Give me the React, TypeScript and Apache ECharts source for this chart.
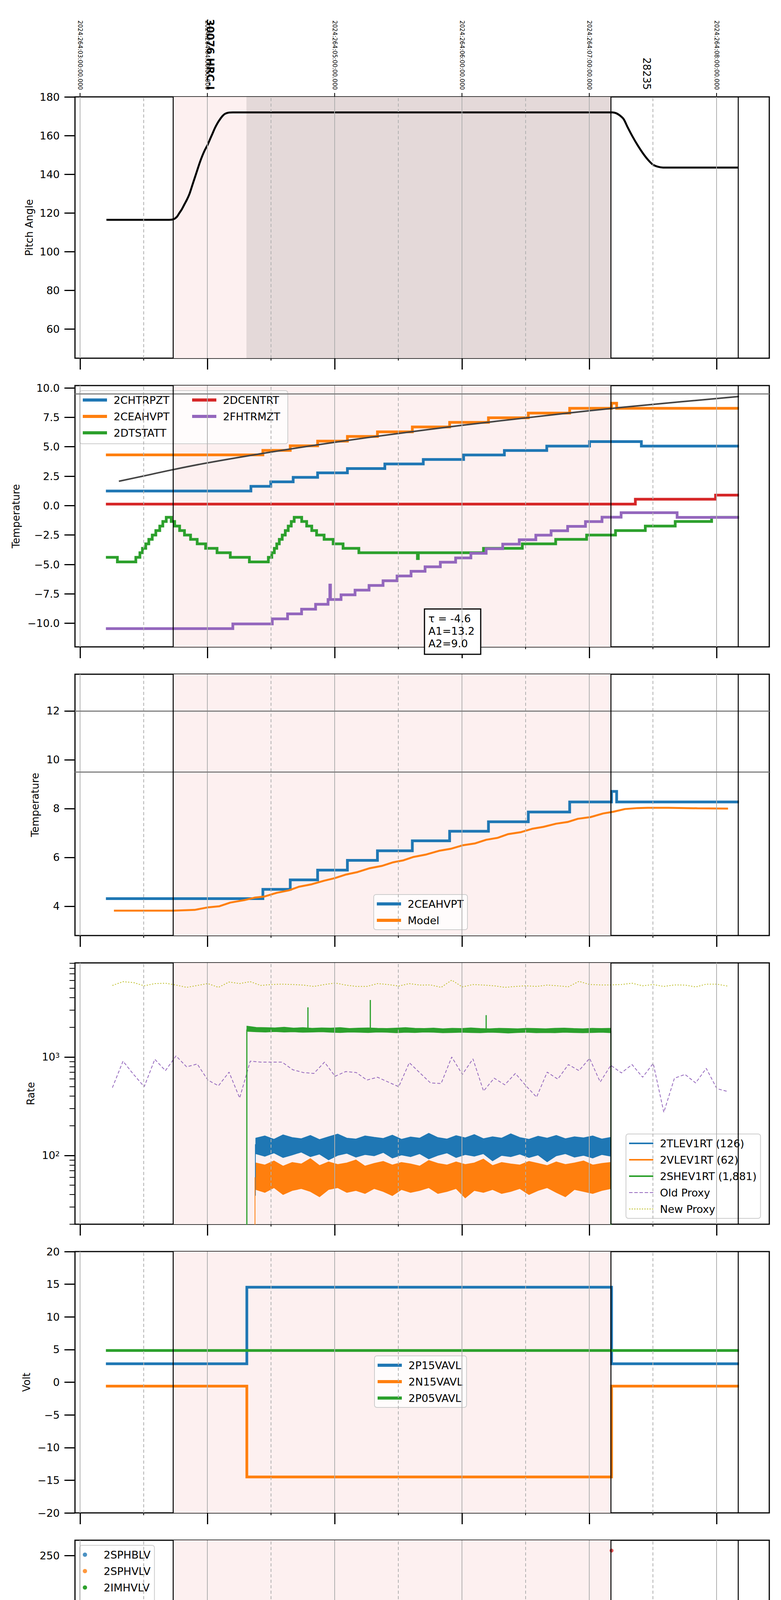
import React, { useEffect, useRef } from "react";
import * as echarts from "echarts";

const FONT = "DejaVu Sans";
const C_BLUE = "#1f77b4";
const C_ORANGE = "#ff7f0e";
const C_GREEN = "#2ca02c";
const C_RED = "#d62728";
const C_PURPLE = "#9467bd";
const C_OLIVE = "#bcbd22";
const C_MODEL = "#444444";
const PINK = "#fdf0f0";
const DARK = "#e4d9d9";

// ---------- x axis (hours after 2024-09-19 23:00 local) ----------
const X_MIN = -0.04;
const X_MAX = 5.414;
const HOUR_TICKS = [0, 1, 2, 3, 4, 5];
const HALF_TICKS = [0.5, 1.5, 2.5, 3.5, 4.5];
const ALL_LABEL_TICKS = [0, 0.5, 1, 1.5, 2, 2.5, 3, 3.5, 4, 4.5, 5];
const HOUR_LABELS = ["23h", "00h", "01h", "02h", "03h", "04h"];
const HALF_LABEL = "30";
const X_TITLE = "2024-09-20 (264)";
const UTC_LABELS = [
  "2024:264:03:00:00.000",
  "2024:264:04:00:00.000",
  "2024:264:05:00:00.000",
  "2024:264:06:00:00.000",
  "2024:264:07:00:00.000",
  "2024:264:08:00:00.000",
];
const OBSID_BOLD_TIME = [1.02];
const OBSID_BOLD_LABEL = "30076 HRC-I";
const OBSID_TIME = [4.45];
const OBSID_LABEL = "28235";
const SHADE_SPAN = [0.733, 4.17];
const DARK_SPAN = [1.307, 4.17];
const EVENT_LINES = [0.733, 4.17, 5.166];

// ---------- y ticks ----------
const Y_TICKS_PITCH = [60, 80, 100, 120, 140, 160, 180];
const Y_TICKS_TEMP = [-10, -7.5, -5, -2.5, 0, 2.5, 5, 7.5, 10];
const Y_TICKS_CEA = [4, 6, 8, 10, 12];
const Y_TICKS_RATE = [100, 1000];
const Y_MINOR_RATE = [20, 30, 40, 50, 60, 70, 80, 90, 200, 300, 400, 500, 600, 700, 800, 900, 2000, 3000, 4000, 5000, 6000, 7000, 8000, 9000];
const Y_TICKS_VOLT = [-20, -15, -10, -5, 0, 5, 10, 15, 20];
const Y_TICKS_HV = [0, 50, 100, 150, 200, 250];
const Y_TICKS_DET = [0, 2.5, 5, 7.5, 10, 12.5, 15, 17.5];
const Y_TICKS_FEA = [-10, -8, -6, -4, -2, 0];
const H_LINES_TEMP = [9.5];
const H_LINES_CEA = [12, 9.5];

// ---------- panel 1: pitch ----------
const PITCH = [
  [0.207, 116.5], [0.7, 116.5], [0.735, 116.8], [0.76, 118], [0.78, 120], [0.8, 122], [0.82, 124.5],
  [0.84, 127], [0.86, 130], [0.88, 134], [0.9, 138], [0.92, 142], [0.94, 146], [0.96, 149.5],
  [0.98, 152.5], [1.0, 155], [1.02, 158], [1.04, 161], [1.06, 164], [1.08, 166.5], [1.1, 168.5],
  [1.12, 170.2], [1.14, 171.3], [1.17, 171.9], [1.2, 172], [4.18, 172], [4.21, 171.6], [4.24, 170.4],
  [4.27, 168.5], [4.3, 164.5], [4.34, 159.5], [4.38, 155], [4.42, 151], [4.46, 147.6], [4.5, 145],
  [4.54, 143.9], [4.58, 143.5], [5.17, 143.5],
];

// ---------- panel 2 / 3: temperatures ----------
const CHTRPZT = [
  [0.203, 1.24], [1.342, 1.64], [1.498, 2.02], [1.674, 2.4], [1.866, 2.78], [2.1, 3.15], [2.394, 3.54],
  [2.696, 3.92], [3.013, 4.3], [3.333, 4.68], [3.666, 5.06], [4.002, 5.44], [4.409, 5.06], [5.176, 5.06],
];
const CEAHVPT = [
  [0.203, 4.31], [1.436, 4.69], [1.651, 5.08], [1.866, 5.48], [2.1, 5.88], [2.336, 6.27], [2.61, 6.68],
  [2.903, 7.07], [3.208, 7.46], [3.521, 7.86], [3.846, 8.27], [4.175, 8.7], [4.215, 8.27], [5.176, 8.27],
];
const DTSTATT = [
  [0.203, -4.39], [0.293, -4.78], [0.438, -4.39], [0.47, -4.0], [0.49, -3.63], [0.516, -3.25], [0.54, -2.87],
  [0.567, -2.5], [0.595, -2.12], [0.626, -1.74], [0.65, -1.35], [0.677, -0.99], [0.716, -1.35], [0.743, -1.74],
  [0.782, -2.12], [0.82, -2.5], [0.868, -2.87], [0.92, -3.25], [0.986, -3.63], [1.076, -4.0], [1.18, -4.39],
  [1.33, -4.78], [1.479, -4.39], [1.506, -4.0], [1.526, -3.63], [1.545, -3.25], [1.565, -2.87], [1.588, -2.5],
  [1.612, -2.12], [1.635, -1.74], [1.659, -1.35], [1.682, -0.99], [1.741, -1.35], [1.78, -1.74], [1.82, -2.12],
  [1.858, -2.5], [1.917, -2.87], [1.988, -3.25], [2.066, -3.63], [2.19, -4.0], [2.65, -4.5], [2.657, -4.0],
  [3.169, -3.63], [3.474, -3.25], [3.736, -2.87], [3.979, -2.5], [4.206, -2.12], [4.44, -1.74], [4.675, -1.35],
  [4.961, -0.99], [5.176, -0.99],
];
const DCENTRT = [[0.203, 0.13], [4.362, 0.54], [4.992, 0.89], [5.176, 0.89]];
const FHTRMZT = [
  [0.203, -10.45], [1.2, -10.05], [1.51, -9.62], [1.63, -9.2], [1.74, -8.8], [1.85, -8.38], [1.948, -7.98],
  [1.962, -6.75], [1.967, -7.98], [2.05, -7.58], [2.16, -7.18], [2.27, -6.78], [2.38, -6.38], [2.49, -5.98],
  [2.6, -5.58], [2.71, -5.2], [2.83, -4.81], [2.95, -4.44], [3.07, -4.05], [3.19, -3.66], [3.32, -3.27],
  [3.45, -2.9], [3.58, -2.51], [3.7, -2.14], [3.83, -1.76], [3.97, -1.36], [4.1, -0.98], [4.25, -0.6],
  [4.69, -1.0], [5.176, -1.0],
];
const MODEL_FIT = [
  [0.305, 2.07], [0.5, 2.52], [0.736, 3.07], [1.0, 3.63], [1.5, 4.55], [2.0, 5.38], [2.5, 6.13],
  [3.0, 6.82], [3.5, 7.45], [4.0, 8.06], [4.5, 8.6], [5.176, 9.27],
];
const FIT_TEXT = "τ = -4.6\nA1=13.2\nA2=9.0";
const MODEL_CEA = [
  [0.266, 3.82], [0.736, 3.82], [0.9, 3.85], [1.0, 3.95], [1.095, 4.0], [1.18, 4.15], [1.29, 4.25], [1.37, 4.35],
  [1.45, 4.4], [1.545, 4.55], [1.64, 4.65], [1.72, 4.8], [1.82, 4.9], [1.92, 5.05], [2.0, 5.15], [2.09, 5.3],
  [2.18, 5.4], [2.27, 5.55], [2.37, 5.65], [2.46, 5.8], [2.54, 5.88], [2.62, 6.02], [2.72, 6.12], [2.82, 6.27],
  [2.91, 6.35], [3.01, 6.5], [3.1, 6.57], [3.19, 6.72], [3.28, 6.8], [3.36, 6.95], [3.46, 7.03], [3.55, 7.17],
  [3.64, 7.25], [3.74, 7.38], [3.83, 7.45], [3.91, 7.58], [4.01, 7.65], [4.11, 7.8], [4.19, 7.87], [4.28, 7.98],
  [4.38, 8.02], [4.46, 8.03], [4.62, 8.03], [4.85, 8.01], [5.09, 8.0],
];

// ---------- panel 4: rates ----------
const BAND_T0 = 1.38;
const BAND_T1 = 4.17;
const SH_T0 = 1.31;
const TL_HI = [150, 158, 146, 162, 152, 148, 160, 145, 155, 165, 150, 147, 158, 153, 149, 161, 146, 154, 150, 168, 152, 147, 159, 151, 163, 148, 155, 150, 166, 152, 146, 157, 150, 160, 148, 155, 151, 158, 147, 153];
const TL_LO = [104, 98, 106, 95, 101, 108, 97, 103, 90, 100, 105, 96, 102, 99, 107, 94, 101, 97, 104, 92, 100, 106, 95, 102, 98, 104, 88, 100, 97, 103, 95, 101, 86, 99, 104, 96, 100, 94, 102, 98];
const VL_HI = [84, 80, 88, 78, 85, 82, 93, 79, 86, 81, 84, 90, 78, 83, 87, 80, 85, 82, 78, 89, 83, 80, 86, 81, 84, 92, 79, 85, 82, 80, 87, 83, 79, 86, 81, 84, 88, 80, 83, 85];
const VL_LO = [45, 42, 47, 40, 44, 46, 43, 38, 45, 47, 42, 44, 41, 46, 43, 39, 45, 42, 44, 47, 41, 43, 46, 37, 44, 42, 45, 41, 43, 46, 40, 44, 47, 42, 38, 45, 43, 41, 44, 46];
const SH_HI = [2060, 2000, 1990, 1980, 2010, 1970, 1990, 1960, 1980, 1970, 1990, 1950, 1970, 1980, 1960, 1950, 1970, 1990, 1960, 1950, 1970, 1940, 1960, 1950, 1980, 1950, 1940, 1960, 1950, 1940, 1960, 1950, 1940, 1960, 1970, 1950, 1940, 1960, 1950, 1960];
const SH_LO = [1820, 1800, 1790, 1810, 1790, 1800, 1780, 1790, 1800, 1780, 1770, 1790, 1780, 1770, 1790, 1780, 1760, 1780, 1770, 1790, 1780, 1760, 1770, 1780, 1770, 1760, 1780, 1770, 1750, 1770, 1780, 1760, 1770, 1760, 1780, 1770, 1760, 1770, 1780, 1760];
const SH_SPIKES: any[] = [
  [1.31, 10], [1.31, 1900], [1.311, "-"], [1.79, 1900], [1.79, 3200], [1.791, "-"],
  [2.28, 1900], [2.28, 3790], [2.281, "-"], [3.19, 1880], [3.19, 2660], [3.191, "-"],
  [4.17, 1850], [4.17, 10],
];
const TL_EDGE: any[] = [[1.377, 39], [1.377, 130], [1.378, "-"], [4.168, 120], [4.168, 60]];
const VL_EDGE: any[] = [[1.374, 10], [1.374, 60]];
const PROXY_T0 = 0.254;
const PROXY_DT = 0.0833;
const OLD_PROXY = [488, 907, 665, 499, 948, 727, 1027, 794, 849, 583, 510, 702, 383, 907, 887, 887, 887, 743, 695, 681, 887, 637, 711, 695, 583, 623, 557, 499, 876, 689, 545, 538, 1000, 665, 957, 451, 609, 522, 681, 510, 391, 702, 596, 838, 727, 969, 557, 823, 689, 838, 623, 861, 274, 609, 665, 545, 767, 477, 447];
const NEW_PROXY = [5333, 5826, 5700, 5290, 5570, 5620, 5380, 5100, 5333, 5570, 5100, 5780, 5570, 5826, 5333, 5450, 5500, 5450, 5380, 5210, 5450, 5650, 5380, 5210, 5210, 5570, 5450, 5260, 5570, 5380, 5400, 5100, 6040, 5150, 5450, 5380, 5290, 5100, 5210, 5290, 5210, 5380, 5290, 5170, 5870, 5450, 5400, 5400, 5450, 5620, 5290, 5450, 5210, 5400, 5380, 5150, 5500, 5500, 5260];

// ---------- panel 5: volts ----------
const P15VAVL = [[0.203, 2.83], [1.31, 14.55], [4.175, 2.83], [5.176, 2.83]];
const N15VAVL = [[0.203, -0.6], [1.31, -14.5], [4.175, -0.6], [5.176, -0.6]];
const P05VAVL = [[0.203, 4.86], [5.176, 4.86]];

// ---------- panel 6: HV monitor ----------
const IMHBLV_PTS = [
  [1.33, 127], [1.331, 125.5], [1.332, 124], [1.334, 119], [1.337, 106], [1.34, 104], [1.345, 101], [1.352, 97],
  [1.358, 94], [1.365, 91], [1.37, 88.5], [3.365, 79], [3.4, 79], [3.44, 79], [3.46, 79], [4.03, 79], [4.07, 79], [4.175, 255],
];
const IMHBLV_LEVEL = [[1.375, 85.8], [4.175, 85.8]];
const IMHVLV_PTS = [
  [1.33, 100], [1.336, 96], [1.343, 91], [1.35, 87], [1.357, 84], [1.365, 81],
  [3.365, 127], [3.4, 127], [3.44, 127], [3.46, 127], [4.03, 127], [4.07, 127],
];
const IMHVLV_LEVEL = [[1.37, 79.3], [4.175, 79.3]];

// ---------- panel 7: detector temps ----------
const TOGGLE_W = 0.008;
const SPINATM = [
  [1.322, 1.74], [1.471, 2.2], [1.487, 2.67], [1.506, 3.14], [1.522, 3.65], [1.538, 4.15], [1.557, 4.65],
  [1.577, 5.16], [1.596, 5.66], [1.624, 6.17], [1.651, 6.67], [1.678, 7.18], [1.714, 6.67], [1.737, 6.17],
  [1.768, 5.66], [1.808, 5.16], [1.847, 4.65], [1.898, 4.15], [1.964, 3.65], [2.05, 3.14], [2.16, 2.67],
  [2.355, 2.2], [4.155, 2.2],
];
const SPINATM_TOG = [[3.314, -5], [3.365, -5], [3.404, -5], [3.443, -5], [3.462, -5], [3.49, -5], [3.513, -5], [3.541, -5], [3.568, -5], [3.932, -5], [3.983, -5], [4.03, -5], [4.069, -5]];
const SPHVATM = [
  [1.322, 12.65], [1.964, 13.01], [2.25, 13.37], [2.496, 13.69], [2.758, 14.02], [3.013, 14.34], [3.286, 14.68],
  [3.607, 15.03], [3.815, 15.36], [4.088, 15.7], [4.155, 15.7],
];
const SPHVATM_TOG = [[3.314, 9.0], [3.365, 9.0], [3.404, 9.0], [3.443, 9.0], [3.462, 9.0], [3.49, 9.0], [3.513, 9.0], [3.541, 9.0], [3.568, 9.0], [3.932, 9.6], [3.983, 9.6], [4.03, 9.6], [4.069, 9.6]];
const SPHVATM_DROP = [[3.6, 15.03], [3.6, -5]];
const IMINATM = [[1.322, -0.97], [1.721, -0.53], [2.868, -0.1], [3.854, 0.36], [4.155, 0.36]];
const IMINATM_TOG = [[3.314, 2.2], [3.365, 2.2], [3.404, 2.2], [3.443, 2.2], [3.462, 2.2], [3.49, 2.2], [3.513, 2.2], [3.541, 2.2], [3.568, 2.2], [3.932, 2.2], [3.983, 2.2], [4.03, 2.2], [4.069, 2.2]];
const IMHVATM = [
  [1.3, -5], [1.311, 11.97], [1.506, 12.33], [1.612, 12.65], [1.721, 13.0], [1.831, 13.34], [1.948, 13.66],
  [2.081, 13.98], [2.21, 14.31], [2.367, 14.65], [2.523, 15.0], [2.711, 15.35], [2.907, 15.68], [3.13, 16.04],
  [3.353, 16.4], [3.592, 16.73], [3.846, 17.07], [4.096, 17.33], [4.17, 25], [4.178, -5], [4.185, -5],
];
const IMHVATM_TOG = [[3.314, 14.6], [3.365, 14.6], [3.404, 9.3], [3.443, 14.6], [3.462, 14.6], [3.49, 14.6], [3.513, 9.3], [3.541, 14.6], [3.568, 9.3], [3.932, 15.3], [3.983, 15.3], [4.03, 15.3], [4.069, 15.3]];

// ---------- panel 8: FEA temps ----------
const FRADPYT = [
  [1.6, -12], [1.65, -10.49], [1.75, -10.07], [1.84, -9.64], [1.94, -9.22], [2.05, -8.8], [2.16, -8.4],
  [2.27, -7.98], [2.38, -7.57], [2.5, -7.16], [2.61, -6.77], [2.74, -6.39], [2.86, -5.99], [2.99, -5.59],
  [3.11, -5.19], [3.25, -4.81], [3.38, -4.4], [3.52, -4.03], [3.65, -3.64], [3.8, -3.27], [3.93, -2.88],
  [4.08, -2.51], [4.63, -2.9], [4.91, -3.28], [5.176, -3.28],
];
const FEPRATM = [
  [1.3, -12], [1.31, -10.25], [1.37, -9.84], [1.416, -9.41], [1.459, -8.97], [1.518, -8.56], [1.585, -8.15],
  [1.67, -7.71], [1.76, -7.28], [1.85, -6.87], [1.948, -6.46], [2.054, -6.05], [2.152, -5.62], [2.27, -5.21],
  [2.375, -4.79], [2.49, -4.36], [2.61, -3.95], [2.73, -3.54], [2.856, -3.11], [2.985, -2.7], [3.118, -2.27],
  [3.255, -1.84], [3.42, -1.4], [3.6, -0.97], [3.69, -0.53], [3.85, -0.1], [4.155, -0.1],
];
const FEPRATM_TOG = [[3.322, -6.05], [3.372, -6.05], [3.401, -6.05], [3.423, -6.05], [3.452, -6.05], [3.471, -6.05], [3.484, -6.05], [3.541, -6.05], [3.567, -6.05], [3.599, -6.05], [3.611, -6.05], [3.936, -6.05], [3.953, -6.05], [3.99, -6.05], [4.038, -6.05], [4.079, -6.05]];
const FE00ATM = [
  [1.55, -12], [1.59, -10.43], [1.67, -10.06], [1.75, -9.65], [1.83, -9.32], [1.92, -8.95], [1.98, -8.58],
  [2.06, -8.19], [2.15, -7.84], [2.23, -7.47], [2.31, -7.12], [2.41, -6.77], [2.5, -6.4], [2.6, -6.05],
  [2.688, -5.7], [2.787, -5.35], [2.879, -5.01], [2.975, -4.66], [3.076, -4.33], [3.172, -3.98], [3.28, -3.64],
  [3.35, -3.3], [3.52, -2.95], [3.624, -2.62], [3.694, -2.29], [3.796, -1.97], [3.917, -1.62], [4.045, -1.29],
  [4.134, -0.96], [4.175, 1], [4.18, -12], [4.185, -12],
];
const FE00ATM_TOG = [
  [3.229, -4.33], [3.322, 1], [3.357, 1], [3.367, 1], [3.377, 1], [3.387, 1], [3.397, 1], [3.407, 1], [3.417, 1],
  [3.427, 1], [3.437, 1], [3.447, 1], [3.457, 1], [3.467, 1], [3.477, 1], [3.487, 1], [3.497, 1], [3.51, -12],
  [3.535, 1], [3.545, 1], [3.555, 1], [3.565, 1], [3.575, 1], [3.585, 1], [3.595, 1], [3.605, -12], [3.614, 1],
  [3.873, 1], [3.943, 1], [3.955, 1], [3.987, 1], [4.005, 1], [4.025, 1], [4.045, 1], [4.07, -2.0],
];

// ---------- layout ----------
const GRID_TOPS = [248, 987, 1726, 2465, 3204, 3943, 4682, 5421];
const GRID_LEFT = 192;
const GRID_WIDTH = 1778;
const GRID_HEIGHT = 669;

const minus = (s: string) => s.replace("-", "\u2212");
const fmt0 = (v: number) => minus(String(Math.round(v)));
const fmt1 = (v: number) => minus(v.toFixed(1));

function withToggles(base: number[][], toggles: number[][], w: number): number[][] {
  const at = (t: number) => {
    let v = base[0][1];
    for (const p of base) {
      if (p[0] <= t) v = p[1];
      else break;
    }
    return v;
  };
  const pts = base.map((p) => [p[0], p[1]]);
  toggles.forEach(([t, alt]) => {
    pts.push([t, alt]);
    pts.push([t + w, at(t + w)]);
  });
  pts.sort((a, b) => a[0] - b[0]);
  return pts;
}

function stepLine(gi: number, name: string, data: any[], color: string, width = 7, extra: any = {}) {
  return {
    type: "line", name, xAxisIndex: gi, yAxisIndex: gi, data, step: "end",
    symbol: "none", showSymbol: false, z: 2, clip: true, silent: true,
    lineStyle: { color, width, join: "miter" }, itemStyle: { color },
    emphasis: { disabled: true }, ...extra,
  };
}
function plainLine(gi: number, name: string, data: any[], color: string, width: number, extra: any = {}) {
  return {
    type: "line", name, xAxisIndex: gi, yAxisIndex: gi, data,
    symbol: "none", showSymbol: false, z: 2, clip: true, silent: true,
    lineStyle: { color, width }, itemStyle: { color },
    emphasis: { disabled: true }, ...extra,
  };
}
// noisy rate channel drawn as a filled band between its low and high envelopes
function bandSeries(name: string, t: number[], hi: number[], lo: number[], color: string) {
  return {
    type: "custom", name, xAxisIndex: 3, yAxisIndex: 3, silent: true, z: 2,
    itemStyle: { color },
    data: [[t[0], lo[0]]],
    renderItem: (_params: any, api: any) => {
      const top = t.map((x, k) => api.coord([x, hi[k]]));
      const bot = t.map((x, k) => api.coord([x, lo[k]])).reverse();
      return {
        type: "polygon",
        shape: { points: top.concat(bot) },
        style: { fill: color, stroke: color, lineWidth: 1.5 },
      };
    },
  };
}

function buildOption() {
  const nG = GRID_TOPS.length;
  const grids = GRID_TOPS.map((top) => ({
    left: GRID_LEFT, top, width: GRID_WIDTH, height: GRID_HEIGHT,
    show: true, borderColor: "#000", borderWidth: 3, backgroundColor: "transparent",
  }));

  const noLine = { show: false, onZero: false };
  const xAxes: any[] = [];
  for (let i = 0; i < nG; i++) {
    const last = i === nG - 1;
    xAxes.push({
      gridIndex: i, type: "value", min: X_MIN, max: X_MAX, position: "bottom",
      axisLine: noLine, splitLine: { show: false },
      axisTick: { show: true, customValues: HOUR_TICKS, length: 29, lineStyle: { color: "#000", width: 3 } },
      axisLabel: {
        show: last, customValues: ALL_LABEL_TICKS,
        formatter: (v: number) => {
          const k = Math.round(v * 2);
          return k % 2 === 1 ? "{m|" + HALF_LABEL + "}" : "{h|" + HOUR_LABELS[k / 2] + "}";
        },
        margin: 8, color: "#000", fontFamily: FONT, fontSize: 18,
        rich: {
          m: { fontSize: 18, fontFamily: FONT, color: "#000" },
          h: { fontSize: 28, fontFamily: FONT, color: "#000", padding: [24, 0, 0, 0] },
        },
      },
      name: last ? X_TITLE : "", nameLocation: "middle", nameGap: 73, nameMoveOverlap: false,
      nameTextStyle: { fontSize: 30, color: "#000", fontFamily: FONT },
    });
  }
  for (let i = 0; i < nG; i++) {
    xAxes.push({
      gridIndex: i, type: "value", min: X_MIN, max: X_MAX, position: "bottom",
      axisLine: noLine, splitLine: { show: false },
      axisTick: { show: true, customValues: HALF_TICKS, length: 6, lineStyle: { color: "#000", width: 2 } },
      axisLabel: { show: false },
    });
  }
  // top axes of panel 1
  xAxes.push({
    gridIndex: 0, type: "value", min: X_MIN, max: X_MAX, position: "top",
    axisLine: noLine, splitLine: { show: false },
    axisTick: { show: true, customValues: HOUR_TICKS, length: 10, lineStyle: { color: "#000", width: 2 } },
    axisLabel: {
      show: true, customValues: HOUR_TICKS, rotate: 90, formatter: (v: number) => UTC_LABELS[Math.round(v)],
      fontSize: 15, color: "#000", margin: 18, fontFamily: FONT,
    },
  });
  xAxes.push({
    gridIndex: 0, type: "value", min: X_MIN, max: X_MAX, position: "top",
    axisLine: noLine, splitLine: { show: false }, axisTick: { show: false },
    axisLabel: {
      show: true, customValues: OBSID_BOLD_TIME, rotate: 90, formatter: () => OBSID_BOLD_LABEL,
      fontSize: 26, fontWeight: "bold", color: "#000", margin: 18, fontFamily: FONT,
    },
  });
  xAxes.push({
    gridIndex: 0, type: "value", min: X_MIN, max: X_MAX, position: "top",
    axisLine: noLine, splitLine: { show: false }, axisTick: { show: false },
    axisLabel: {
      show: true, customValues: OBSID_TIME, rotate: 90, formatter: () => OBSID_LABEL,
      fontSize: 26, color: "#000", margin: 18, fontFamily: FONT,
    },
  });

  const panels = [
    { name: "Pitch Angle", min: 45, max: 180, ticks: Y_TICKS_PITCH, fmt: fmt0, gap: 104 },
    { name: "Temperature", min: -12, max: 10.2, ticks: Y_TICKS_TEMP, fmt: fmt1, gap: 138 },
    { name: "Temperature", min: 2.8, max: 13.5, ticks: Y_TICKS_CEA, fmt: fmt0, gap: 89 },
    { name: "Rate", min: 20, max: 9040, ticks: Y_TICKS_RATE, log: true, fmt: (v: number) => "{b|10}{s|" + Math.round(Math.log10(v)) + "}", gap: 100 },
    { name: "Volt", min: -20, max: 20, ticks: Y_TICKS_VOLT, fmt: fmt0, gap: 111 },
    { name: "HV Monitor", min: 0, max: 265.5, ticks: Y_TICKS_HV, fmt: fmt0, gap: 104 },
    { name: "Detector Temp", min: -2.05, max: 17.84, ticks: Y_TICKS_DET, fmt: fmt1, gap: 114 },
    { name: "FEA Temp", min: -10.73, max: 0.07, ticks: Y_TICKS_FEA, fmt: fmt0, gap: 111 },
  ];
  const yAxes: any[] = panels.map((p: any, i) => ({
    gridIndex: i, type: p.log ? "log" : "value", logBase: 10, min: p.min, max: p.max, position: "left",
    axisLine: noLine, splitLine: { show: false },
    axisTick: { show: true, customValues: p.ticks, length: 27, lineStyle: { color: "#000", width: 3 } },
    axisLabel: {
      show: true, customValues: p.ticks, formatter: p.fmt, fontSize: 27, color: "#000", margin: 39, fontFamily: FONT,
      rich: { b: { fontSize: 27, fontFamily: FONT, color: "#000" }, s: { fontSize: 18, fontFamily: FONT, color: "#000", verticalAlign: "top" } },
    },
    name: p.name, nameLocation: "middle", nameRotate: 90, nameGap: p.gap,
    nameTextStyle: { fontSize: 26, color: "#000", fontFamily: FONT },
  }));
  yAxes.push({
    gridIndex: 3, type: "log", logBase: 10, min: 20, max: 9040, position: "left",
    axisLine: noLine, splitLine: { show: false },
    axisTick: { show: true, customValues: Y_MINOR_RATE, length: 14, lineStyle: { color: "#000", width: 2 } },
    axisLabel: { show: false },
  });

  const series: any[] = [];
  // backgrounds: shading, grid lines, event lines
  for (let i = 0; i < nG; i++) {
    const areas: any[] = [[{ xAxis: SHADE_SPAN[0], itemStyle: { color: PINK } }, { xAxis: SHADE_SPAN[1] }]];
    if (i === 0) areas.push([{ xAxis: DARK_SPAN[0], itemStyle: { color: DARK } }, { xAxis: DARK_SPAN[1] }]);
    series.push({
      type: "line", xAxisIndex: i, yAxisIndex: i, data: [], silent: true, z: 0,
      markArea: { silent: true, label: { show: false }, data: areas },
    });
    const hl = i === 1 ? H_LINES_TEMP : i === 2 ? H_LINES_CEA : [];
    const lines: any[] = [
      ...HOUR_TICKS.map((v) => ({ xAxis: v, lineStyle: { color: "#b0b0b0", width: 2, type: "solid" } })),
      ...HALF_TICKS.map((v) => ({ xAxis: v, lineStyle: { color: "#b0b0b0", width: 2, type: [8, 6] } })),
      ...hl.map((v) => ({ yAxis: v, lineStyle: { color: "#808080", width: 3, type: "solid" } })),
      ...EVENT_LINES.map((v) => ({ xAxis: v, lineStyle: { color: "#000", width: 2.5, type: "solid" } })),
    ];
    series.push({
      type: "line", xAxisIndex: i, yAxisIndex: i, data: [], silent: true, z: 1,
      markLine: { silent: true, symbol: ["none", "none"], label: { show: false }, animation: false, data: lines },
    });
  }

  // panel 1
  series.push(plainLine(0, "Pitch", PITCH, "#000", 5, { smooth: 0.3 }));
  // panel 2
  series.push(stepLine(1, "2CHTRPZT", CHTRPZT, C_BLUE));
  series.push(stepLine(1, "2CEAHVPT", CEAHVPT, C_ORANGE));
  series.push(stepLine(1, "2DTSTATT", DTSTATT, C_GREEN));
  series.push(stepLine(1, "2DCENTRT", DCENTRT, C_RED));
  series.push(stepLine(1, "2FHTRMZT", FHTRMZT, C_PURPLE));
  series.push(plainLine(1, "_fit", MODEL_FIT, C_MODEL, 4, { smooth: 0.4 }));
  // panel 3
  series.push(stepLine(2, "2CEAHVPT", CEAHVPT, C_BLUE));
  series.push(plainLine(2, "Model", MODEL_CEA, C_ORANGE, 5));
  // panel 4
  const bandT = TL_HI.map((_, k) => BAND_T0 + (k * (BAND_T1 - BAND_T0)) / (TL_HI.length - 1));
  const shT = SH_HI.map((_, k) => SH_T0 + (k * (BAND_T1 - SH_T0)) / (SH_HI.length - 1));
  series.push(plainLine(3, "New Proxy", NEW_PROXY.map((v, k) => [PROXY_T0 + k * PROXY_DT, v]), C_OLIVE, 2, { lineStyle: { color: C_OLIVE, width: 2, type: [3, 4] } }));
  series.push(plainLine(3, "Old Proxy", OLD_PROXY.map((v, k) => [PROXY_T0 + k * PROXY_DT, v]), C_PURPLE, 2, { lineStyle: { color: C_PURPLE, width: 2, type: [8, 5] } }));
  series.push(bandSeries("2SHEV1RT (1,881)", shT, SH_HI, SH_LO, C_GREEN));
  series.push(plainLine(3, "_shsp", SH_SPIKES, C_GREEN, 3, { connectNulls: false }));
  series.push(bandSeries("2TLEV1RT (126)", bandT, TL_HI, TL_LO, C_BLUE));
  series.push(plainLine(3, "_tle", TL_EDGE, C_BLUE, 2, { connectNulls: false }));
  series.push(bandSeries("2VLEV1RT (62)", bandT, VL_HI, VL_LO, C_ORANGE));
  series.push(plainLine(3, "_vle", VL_EDGE, C_ORANGE, 2));
  // panel 5
  series.push(stepLine(4, "2P15VAVL", P15VAVL, C_BLUE));
  series.push(stepLine(4, "2N15VAVL", N15VAVL, C_ORANGE));
  series.push(stepLine(4, "2P05VAVL", P05VAVL, C_GREEN));
  // panel 6
  const scatter = (name: string, data: any[], color: string) => ({
    type: "scatter", name, xAxisIndex: 5, yAxisIndex: 5, data, symbol: "circle", symbolSize: 10,
    itemStyle: { color }, z: 2, silent: true, clip: true,
  });
  series.push(scatter("2SPHBLV", [], C_BLUE));
  series.push(scatter("2SPHVLV", [], C_ORANGE));
  series.push(plainLine(5, "2IMHVLV", IMHVLV_LEVEL, C_GREEN, 12, { lineStyle: { color: C_GREEN, width: 12, cap: "round" } }));
  series.push(scatter("2IMHVLV", IMHVLV_PTS, C_GREEN));
  series.push(plainLine(5, "2IMHBLV", IMHBLV_LEVEL, C_RED, 10, { lineStyle: { color: C_RED, width: 10, cap: "round" } }));
  series.push(scatter("2IMHBLV", IMHBLV_PTS, C_RED));
  // panel 7
  series.push(stepLine(6, "2SPINATM", withToggles(SPINATM, SPINATM_TOG, TOGGLE_W), C_BLUE));
  series.push(stepLine(6, "2SPHVATM", withToggles(SPHVATM, SPHVATM_TOG, TOGGLE_W), C_ORANGE));
  series.push(plainLine(6, "_sphv_drop", SPHVATM_DROP, C_ORANGE, 3));
  series.push(stepLine(6, "2IMINATM", withToggles(IMINATM, IMINATM_TOG, TOGGLE_W), C_GREEN));
  series.push(stepLine(6, "2IMHVATM", withToggles(IMHVATM, IMHVATM_TOG, TOGGLE_W), C_RED));
  // panel 8
  series.push(stepLine(7, "2FHTRMZT", FHTRMZT, C_BLUE));
  series.push(stepLine(7, "2FRADPYT", FRADPYT, C_ORANGE));
  series.push(stepLine(7, "2FEPRATM", withToggles(FEPRATM, FEPRATM_TOG, TOGGLE_W), C_GREEN));
  series.push(stepLine(7, "2FE00ATM", withToggles(FE00ATM, FE00ATM_TOG, TOGGLE_W), C_RED));

  const item = (name: string, color: string, icon = "rect") => ({ name, icon, itemStyle: { color, borderWidth: 0 } });
  const legend = (left: number, top: number, itemHeight: number, data: any[], boxed = true) => ({
    show: true, left, top, orient: "vertical", selectedMode: false,
    itemWidth: 62, itemHeight, itemGap: 10, icon: "rect", symbolKeepAspect: true,
    padding: [8, 10, 8, 8],
    backgroundColor: boxed ? "rgba(255,255,255,0.8)" : "transparent",
    borderColor: boxed ? "#cccccc" : "transparent", borderWidth: boxed ? 2 : 0, borderRadius: 6,
    textStyle: { fontSize: 27, fontFamily: FONT, color: "#000", lineHeight: 32, padding: [0, 0, 0, 12] },
    data,
  });
  const DASH_ICON = "path://M0 0h8v2h-8z M12 0h8v2h-8z M24 0h8v2h-8z M36 0h8v2h-8z M48 0h8v2h-8z";
  const DOT_ICON = "path://M0 0h3v2h-3z M6 0h3v2h-3z M12 0h3v2h-3z M18 0h3v2h-3z M24 0h3v2h-3z M30 0h3v2h-3z M36 0h3v2h-3z M42 0h3v2h-3z M48 0h3v2h-3z M54 0h3v2h-3z";
  const legends = [
    legend(204, 1000, 8, [item("2CHTRPZT", C_BLUE), item("2CEAHVPT", C_ORANGE), item("2DTSTATT", C_GREEN)], false),
    legend(484, 1000, 8, [item("2DCENTRT", C_RED), item("2FHTRMZT", C_PURPLE)], false),
    legend(957, 2290, 8, [item("2CEAHVPT", C_BLUE), item("Model", C_ORANGE)]),
    legend(1603, 2903, 4, [
      item("2TLEV1RT (126)", C_BLUE), item("2VLEV1RT (62)", C_ORANGE), item("2SHEV1RT (1,881)", C_GREEN),
      item("Old Proxy", C_PURPLE, DASH_ICON), item("New Proxy", C_OLIVE, DOT_ICON),
    ]),
    legend(959, 3471, 8, [item("2P15VAVL", C_BLUE), item("2N15VAVL", C_ORANGE), item("2P05VAVL", C_GREEN)]),
    legend(204, 3956, 11, [
      item("2SPHBLV", C_BLUE, "circle"), item("2SPHVLV", C_ORANGE, "circle"),
      item("2IMHVLV", C_GREEN, "circle"), item("2IMHBLV", C_RED, "circle"),
    ]),
    legend(957, 4928, 8, [item("2SPINATM", C_BLUE), item("2SPHVATM", C_ORANGE), item("2IMINATM", C_GREEN), item("2IMHVATM", C_RED)]),
    legend(1707, 5901, 8, [item("2FHTRMZT", C_BLUE), item("2FRADPYT", C_ORANGE), item("2FEPRATM", C_GREEN), item("2FE00ATM", C_RED)]),
  ];

  const graphic = [
    {
      type: "rect", z: 3, silent: true,
      shape: { x: 204, y: 1000, width: 533, height: 136, r: 6 },
      style: { fill: "rgba(255,255,255,0.8)", stroke: "#cccccc", lineWidth: 2 },
    },
    {
      type: "rect", z: 5, silent: true,
      shape: { x: 1087, y: 1559, width: 144, height: 116 },
      style: { fill: "#ffffff", stroke: "#000", lineWidth: 3 },
    },
    {
      type: "text", z: 6, silent: true,
      style: { x: 1097, y: 1567, text: FIT_TEXT, fontSize: 27, fontFamily: FONT, fill: "#000", lineHeight: 32, verticalAlign: "top", align: "left" },
    },
  ];

  return {
    animation: false,
    backgroundColor: "#ffffff",
    textStyle: { fontFamily: FONT },
    grid: grids,
    xAxis: xAxes,
    yAxis: yAxes,
    legend: legends,
    graphic,
    series,
  };
}

export default function App() {
  const ref = useRef<HTMLDivElement>(null);
  useEffect(() => {
    if (!ref.current) return;
    const chart = echarts.init(ref.current, null, { renderer: "svg" });
    chart.setOption(buildOption() as any);
    return () => chart.dispose();
  }, []);
  return (
    <div
      ref={ref}
      style={{ position: "absolute", left: 0, top: 0, width: 2000, height: 6200, background: "#fff" }}
    />
  );
}
